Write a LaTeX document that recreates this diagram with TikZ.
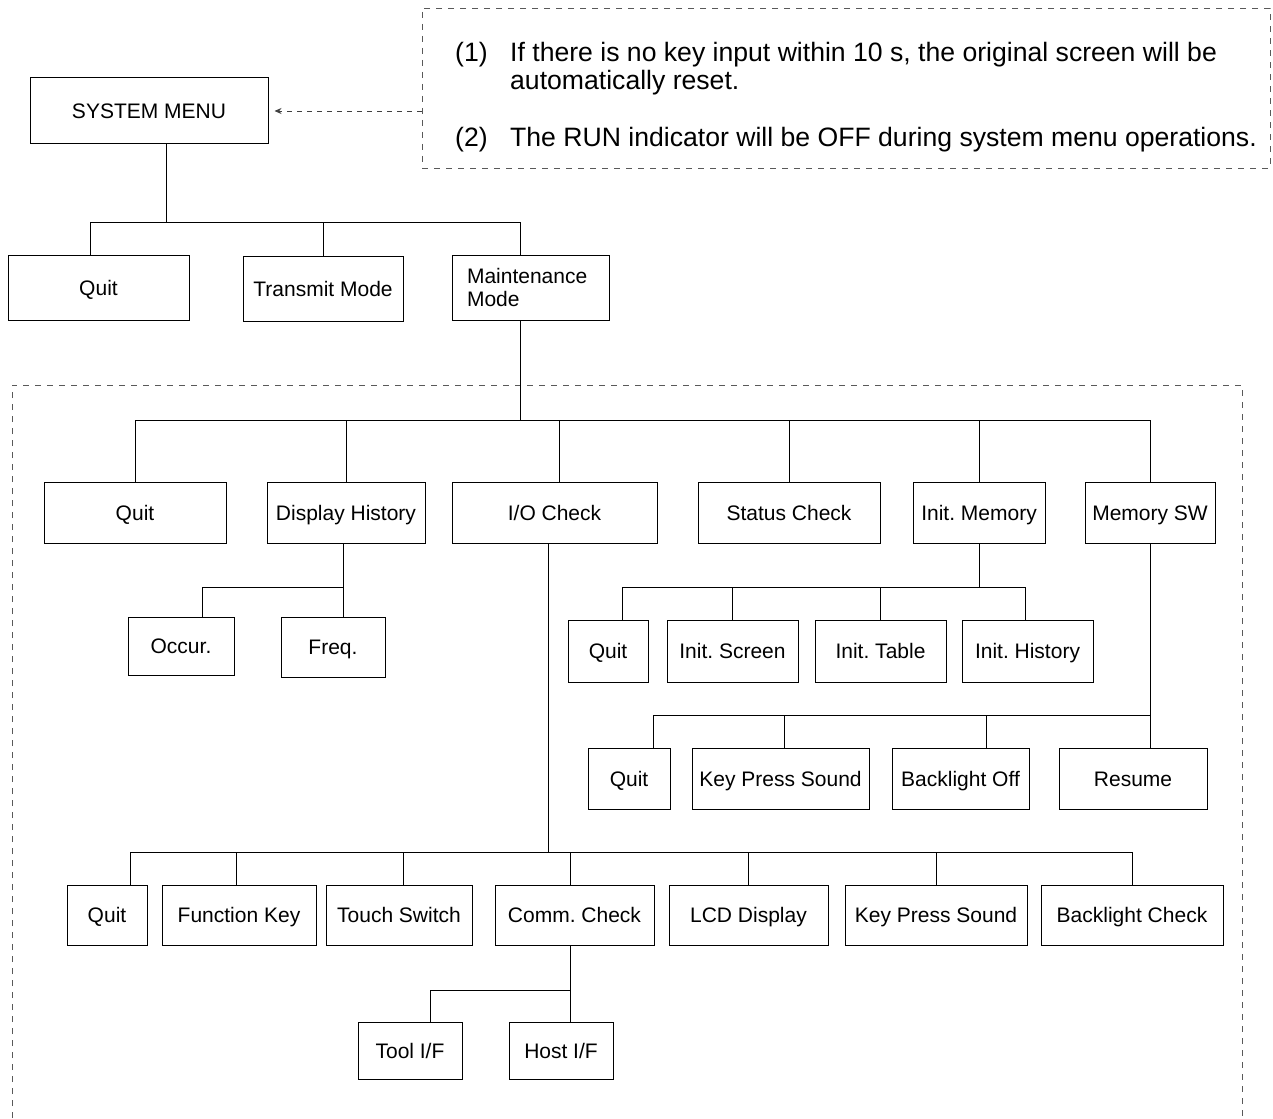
\documentclass[tikz,border=0pt]{standalone}
\usepackage{fontspec}
\setmainfont{Liberation Sans}
\usetikzlibrary{positioning,arrows.meta,calc}
\frenchspacing

\begin{document}
\begin{tikzpicture}[
    x=1pt, y=-1pt,
    menubox/.style={rectangle, draw, line width=1pt, inner sep=0pt, text height=15pt, text depth=0pt, font=\fontsize{21}{23}\selectfont},
    link/.style={line width=1pt},
    notebox/.style={rectangle, draw=black!65, line width=0.9pt, dash pattern=on 6pt off 6pt},
    notetext/.style={inner sep=0pt, font=\fontsize{26.6}{28}\selectfont},
    pointer/.style={-{Stealth[length=7pt,width=6pt]}, draw=black!75, line width=0.9pt, dash pattern=on 5pt off 5pt, shorten >=6pt}
]
\useasboundingbox (0,0) rectangle (1273,1118);

% note and top level
\node[notebox, minimum width=848, minimum height=160] (note) at (846,88) {};
\node[notetext, anchor=base west] (notetxt) at (455,61.5) {\begin{tabular}[t]{@{}p{55pt}@{}l@{}}
(1) & If there is no key input within 10 s, the original screen will be\\
    & automatically reset.\\[29pt]
(2) & The RUN indicator will be OFF during system menu operations.
\end{tabular}};
\node[menubox, minimum width=238, minimum height=66] (sys) at (149,111) {SYSTEM MENU};
\draw[pointer] (note.west |- sys.east) -- (sys.east);

\node[menubox, minimum width=181, minimum height=65] (quit0) at (98.5,287.5) {Quit};
\node[menubox, minimum width=160, minimum height=65] (trans) at (323,288.5) {Transmit Mode};
\node[menubox, minimum width=157, minimum height=65, text width=127, inner xsep=15pt, align=left, text depth=23pt] (maint) at (530.5,287.5) {Maintenance\\Mode};

% maintenance mode area
\draw[notebox] (12,1118) -- (12,385) -- (1242,385) -- (1242,1118);

\node[menubox, minimum width=182, minimum height=61] (quit1) at (135,512.5) {Quit};
\node[menubox, minimum width=158, minimum height=61] (dhist) at (346,512.5) {Display History};
\node[menubox, minimum width=205, minimum height=61] (io) at (554.5,512.5) {I/O Check};
\node[menubox, minimum width=182, minimum height=61] (stat) at (789,512.5) {Status Check};
\node[menubox, minimum width=132, minimum height=61] (imem) at (979,512.5) {Init. Memory};
\node[menubox, minimum width=130, minimum height=61] (msw) at (1150,512.5) {Memory SW};

\node[menubox, minimum width=106, minimum height=58] (occ) at (181,646) {Occur.};
\node[menubox, minimum width=104, minimum height=60] (freq) at (333,647) {Freq.};

\node[menubox, minimum width=80, minimum height=62] (quit2) at (608,651) {Quit};
\node[menubox, minimum width=131, minimum height=62] (iscr) at (732.5,651) {Init. Screen};
\node[menubox, minimum width=131, minimum height=62] (itab) at (880.5,651) {Init. Table};
\node[menubox, minimum width=131, minimum height=62] (ihist) at (1027.5,651) {Init. History};

\node[menubox, minimum width=82, minimum height=61] (quit3) at (629,778.5) {Quit};
\node[menubox, minimum width=177, minimum height=61] (kps1) at (780.5,778.5) {Key Press Sound};
\node[menubox, minimum width=137, minimum height=61] (blo) at (960.5,778.5) {Backlight Off};
\node[menubox, minimum width=148, minimum height=61] (res) at (1133,778.5) {Resume};

\node[menubox, minimum width=80, minimum height=60] (quit4) at (107,915) {Quit};
\node[menubox, minimum width=154, minimum height=60] (fkey) at (239,915) {Function Key};
\node[menubox, minimum width=146, minimum height=60] (tsw) at (399,915) {Touch Switch};
\node[menubox, minimum width=159, minimum height=60] (comm) at (574.5,915) {Comm. Check};
\node[menubox, minimum width=159, minimum height=60] (lcd) at (748.5,915) {LCD Display};
\node[menubox, minimum width=182, minimum height=60] (kps2) at (936,915) {Key Press Sound};
\node[menubox, minimum width=182, minimum height=60] (blc) at (1132,915) {Backlight Check};

\node[menubox, minimum width=104, minimum height=57] (tool) at (410,1050.5) {Tool I/F};
\node[menubox, minimum width=104, minimum height=57] (host) at (561,1050.5) {Host I/F};

% tree lines
\coordinate (j0) at (166,222);
\draw[link] (sys.south -| j0) -- (j0);
\draw[link] ([xshift=-8.5]quit0.north) |- (j0);
\draw[link] (trans.north) |- (j0);
\draw[link] ([xshift=-10.5]maint.north) |- (j0);

\coordinate (j1) at (520,420);
\draw[link] (maint.south -| j1) -- (j1);
\draw[link] (quit1.north) |- (j1);
\draw[link] (dhist.north) |- (j1);
\draw[link] ([xshift=4.5]io.north) |- (j1);
\draw[link] (stat.north) |- (j1);
\draw[link] (imem.north) |- (j1);
\draw[link] (msw.north) |- (j1);

\coordinate (j2) at (343,587);
\draw[link] (dhist.south -| j2) -- (j2);
\draw[link] ([xshift=21]occ.north) |- (j2);
\draw[link] ([xshift=10]freq.north) |- (j2);

\coordinate (j3) at (979,587);
\draw[link] (imem.south) -- (j3);
\draw[link] ([xshift=14]quit2.north) |- (j3);
\draw[link] (iscr.north) |- (j3);
\draw[link] (itab.north) |- (j3);
\draw[link] ([xshift=-2.5]ihist.north) |- (j3);

\coordinate (j4) at (1150,715);
\draw[link] (msw.south) -- (j4);
\draw[link] ([xshift=24]quit3.north) |- (j4);
\draw[link] ([xshift=3.5]kps1.north) |- (j4);
\draw[link] ([xshift=25.5]blo.north) |- (j4);
\draw[link] ([xshift=17]res.north) |- (j4);

\coordinate (j5) at (548,852);
\draw[link] (io.south -| j5) -- (j5);
\draw[link] ([xshift=23]quit4.north) |- (j5);
\draw[link] ([xshift=-3]fkey.north) |- (j5);
\draw[link] ([xshift=4]tsw.north) |- (j5);
\draw[link] ([xshift=-4.5]comm.north) |- (j5);
\draw[link] (lcd.north) |- (j5);
\draw[link] (kps2.north) |- (j5);
\draw[link] (blc.north) |- (j5);

\coordinate (j6) at (570,990);
\draw[link] (comm.south -| j6) -- (j6);
\draw[link] ([xshift=20]tool.north) |- (j6);
\draw[link] ([xshift=9]host.north) |- (j6);
\end{tikzpicture}
\end{document}
